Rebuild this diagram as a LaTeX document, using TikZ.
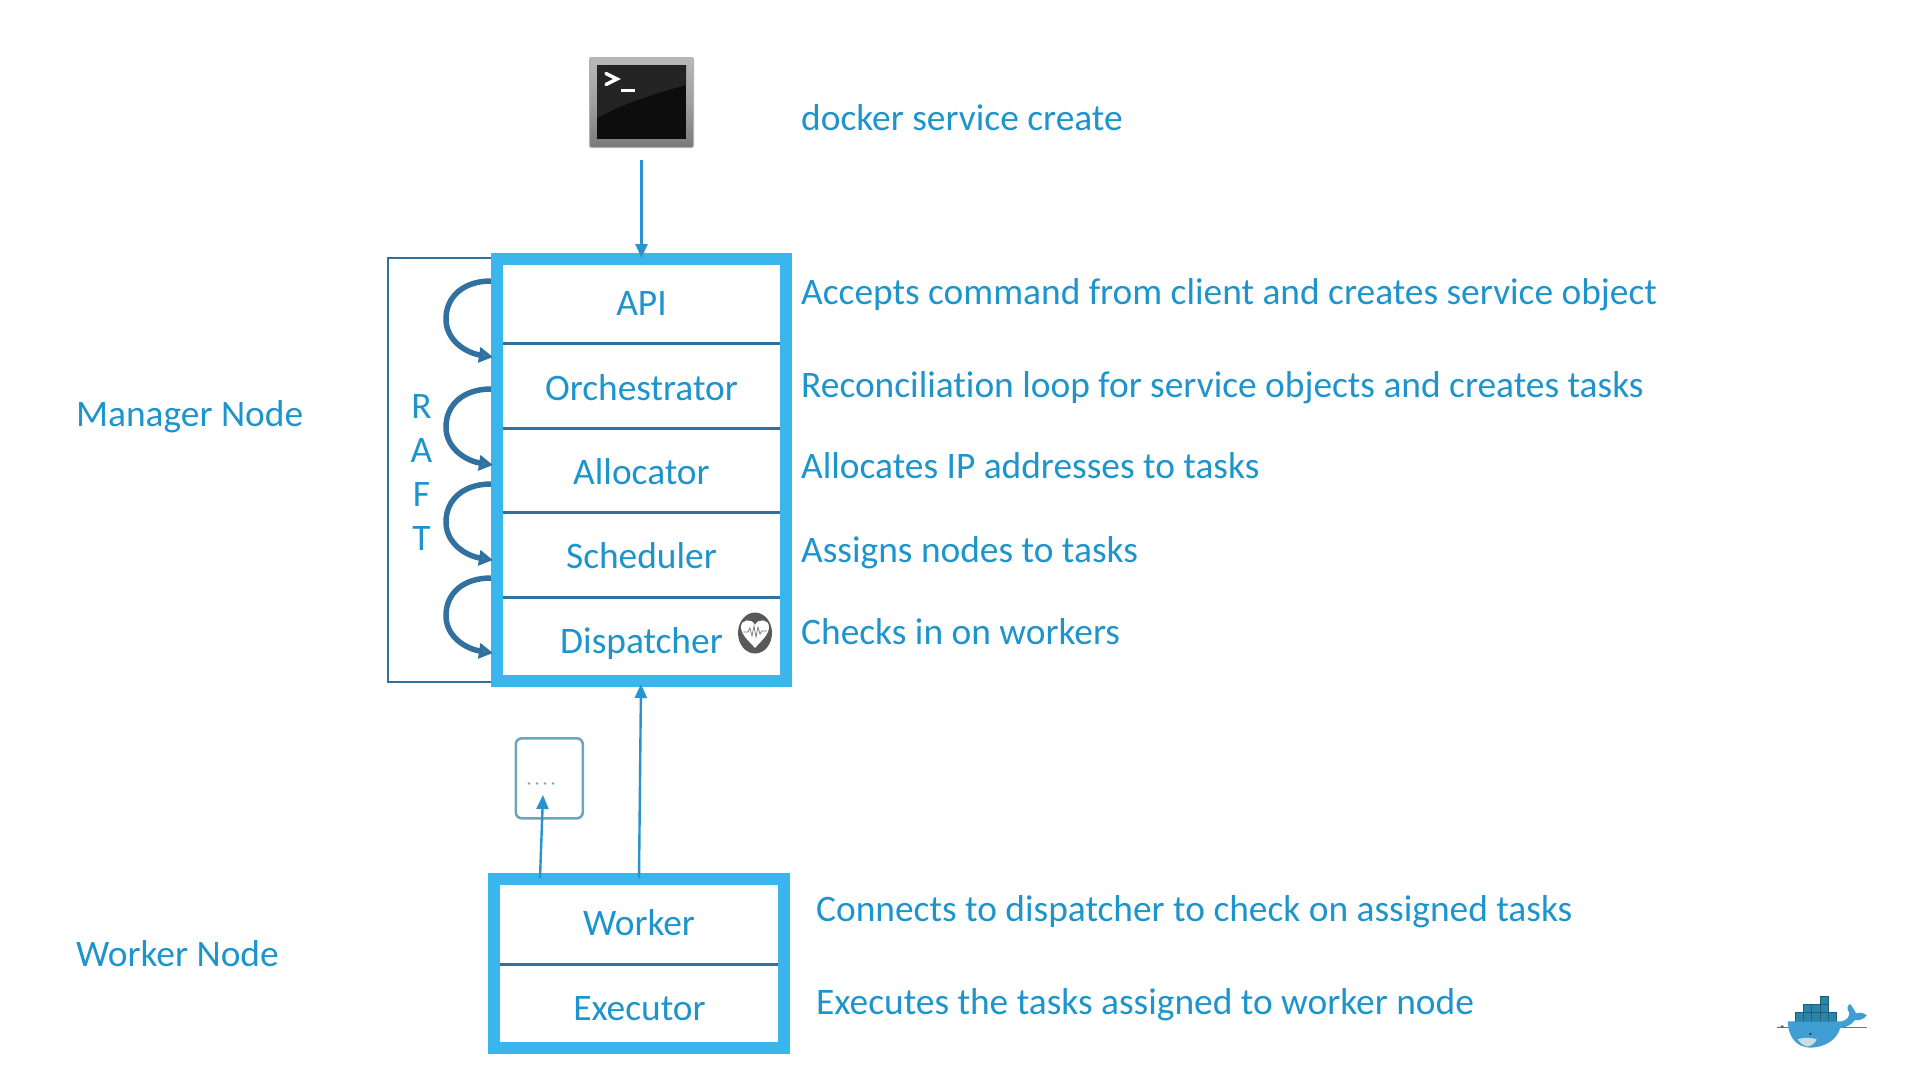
\documentclass[tikz,border=0pt]{standalone}
\usepackage{fontspec}
\setmainfont[Ligatures=NoCommon]{Carlito}
\usetikzlibrary{arrows.meta,shapes.geometric,calc}
\definecolor{txt}{HTML}{1E94CC}
\definecolor{bord}{HTML}{3BB6EC}
\definecolor{dark}{HTML}{31719F}
\definecolor{arr}{HTML}{2A93CF}
\definecolor{teal}{HTML}{6FA5B8}
\definecolor{crate}{HTML}{2A86A8}
\definecolor{crateedge}{HTML}{1F5F78}
\tikzset{
 x=1pt,y=-1pt,
 lab/.style={anchor=base west,inner sep=0pt,text=txt,font=\fontsize{37.4}{40}\selectfont},
 cell/.style={anchor=base,inner sep=0pt,text=txt,font=\fontsize{37.4}{40}\selectfont},
 stack/.style={draw=bord,line width=12pt,anchor=north west,inner sep=0pt},
 rule/.style={draw=dark,line width=3pt},
 loopar/.style={draw=dark,line width=5.5pt,-{Triangle[length=14pt,width=15pt,fill=arr!50!dark]}},
 conn/.style={draw=arr,line width=2.4pt,-{Triangle[length=14pt,width=12pt]}},
}
\begin{document}
\begin{tikzpicture}
\useasboundingbox (0,0) rectangle (1920,1080);
% terminal
\node[anchor=north west,minimum width=104pt,minimum height=90pt,inner sep=0pt,rounded corners=2pt,top color=gray!55,bottom color=gray!95!black,middle color=gray!75,draw=gray!60,line width=1pt] (term) at (589,57) {};
\node[anchor=north west,minimum width=89pt,minimum height=74pt,inner sep=0pt,fill=black!95] (screen) at (597,65) {};
\fill[white!14!black] (597,65) -- (686,65) -- (686,85) .. controls (650,95) and (620,105) .. (597,118) -- cycle;
\draw[white,line width=3.4pt,line cap=round,line join=miter] (606,73.5) -- (617,79) -- (606,84.5);
\draw[white,line width=3pt] (621,90) -- (635,90);
% raft box
\node[draw=dark,line width=2.4pt,anchor=north west,minimum width=110pt,minimum height=424pt,inner sep=0pt] (raft) at (386.5,257) {};
% manager stack
\node[stack,fill=white,minimum width=289pt,minimum height=422pt] (mgr) at (491,253) {};
\draw[rule] (503,343) coordinate (d1) -- (780,343);
\draw[rule] (503,428) coordinate (d2) -- (780,428);
\draw[rule] (503,512) coordinate (d3) -- (780,512);
\draw[rule] (503,597) coordinate (d4) -- (780,597);
\node[cell] (api) at (641.5,315) {API};
\node[cell] (orc) at (641.5,400) {Orchestrator};
\node[cell] (all) at (641.5,484) {Allocator};
\node[cell] (sch) at (641.5,568.5) {Scheduler};
\node[cell] (dis) at (641.5,653) {Dispatcher};
% heart
\node[draw=none,fill=black!65,ellipse,minimum width=34pt,minimum height=41pt,inner sep=0pt] (hb) at (755,633) {};
\fill[white] (755,648) .. controls (750,642) and (741,635) .. (741,627) .. controls (741,619) and (752,618) .. (755,625) .. controls (758,618) and (769,619) .. (769,627) .. controls (769,635) and (760,642) .. (755,648) -- cycle;
\draw[black!55,line width=.7pt] (743,632) -- (748,632) -- (750,628) -- (752,636) -- (754,626) -- (756,637) -- (758,627) -- (760,634) -- (762,631) -- (767,631);
% loops
\coordinate (a1) at (491,281); \coordinate (b1) at (491,357);
\coordinate (a2) at (491,389); \coordinate (b2) at (491,465);
\coordinate (a3) at (491,484); \coordinate (b3) at (491,560);
\coordinate (a4) at (491,578); \coordinate (b4) at (491,653);
\foreach \i in {1,2,3,4}{
 \draw[loopar] (a\i) .. controls +(-28,0) and ($(a\i)!.5!(b\i)+(-45,-22)$) .. ($(a\i)!.5!(b\i)+(-45,0)$) .. controls +(0,22) and ($(b\i)+(-24,-4)$) .. ([xshift=2pt]b\i);
}
% raft text
\node[align=center,inner sep=0pt,text=txt,font=\fontsize{37.4}{44}\selectfont] (rtxt) at (421.5,472) {R\\A\\F\\T};
% worker stack
\node[stack,fill=white,minimum width=290pt,minimum height=169pt] (wrk) at (488,873) {};
\draw[rule] (500,964) coordinate (d5) -- (778,964);
\node[cell] (wk) at (639,935) {Worker};
\node[cell] (ex) at (639.5,1020) {Executor};
% small box
\node[draw=teal,line width=2.6pt,rounded corners=6pt,anchor=north west,minimum width=67pt,minimum height=80pt,inner sep=0pt] (dots) at (514.5,737) {};
\foreach \x in {529,537,545,553}{\fill[teal] (\x,783.5) circle (1.4);}
% connectors
\coordinate (tb) at (641.5,160);
\draw[conn] (tb) -- (641.5,258) coordinate (mt);
\coordinate (w1) at (639,878); \coordinate (w2) at (540,878);
\coordinate (mb) at (641,684); \coordinate (db) at (543,795);
\draw[conn] (w1) -- (mb);
\draw[conn] (w2) -- (db);
% labels
\node[lab] (t0) at (801,130) {docker service create};
\node[lab] (t1) at (801,304) {Accepts command from client and creates service object};
\node[lab] (t2) at (801,397) {Reconciliation loop for service objects and creates tasks};
\node[lab] (t3) at (801,478) {Allocates IP addresses to tasks};
\node[lab] (t4) at (801,562.5) {Assigns nodes to tasks};
\node[lab] (t5) at (801,644.5) {Checks in on workers};
\node[lab] (t6) at (816,921) {Connects to dispatcher to check on assigned tasks};
\node[lab] (t7) at (816,1014) {Executes the tasks assigned to worker node};
\node[lab] (m) at (76,426) {Manager Node};
\node[lab] (w) at (76,966) {Worker Node};
% whale
\begin{scope}[shift={(1760,980)},x=.3333pt,y=-.3333pt]
\draw[black!55,line width=.8pt] (50,143) -- (320,143);
\foreach \x in {66,120,165,205,250}{\fill[black!60] (\x-8,143) -- (\x,135) -- (\x+8,143) -- cycle;}
\foreach \x/\y in {105/98,130/98,155/98,180/98,205/98,130/73,155/73,180/73,180/48}{
 \fill[crate,draw=crateedge,line width=.6pt] (\x,\y) rectangle +(25,25);}
\fill[arr!90!white] (83,124) -- (245,124) .. controls (262,120) and (268,110) .. (268,98) .. controls (260,88) and (260,78) .. (270,72) .. controls (278,80) and (284,92) .. (288,100) .. controls (298,97) and (310,97) .. (320,106) .. controls (312,118) and (298,122) .. (285,120) .. controls (275,135) and (255,143) .. (240,145) .. controls (232,178) and (195,203) .. (150,203) .. controls (110,201) and (86,175) .. (83,124) -- cycle;
\fill[black!5!teal!35!white] (113,178) .. controls (130,172) and (155,172) .. (170,178) .. controls (165,192) and (150,200) .. (140,199) .. controls (128,196) and (120,188) .. (113,178) -- cycle;
\fill[black!80] (151,162) circle (4);
\end{scope}
\end{tikzpicture}
\end{document}
